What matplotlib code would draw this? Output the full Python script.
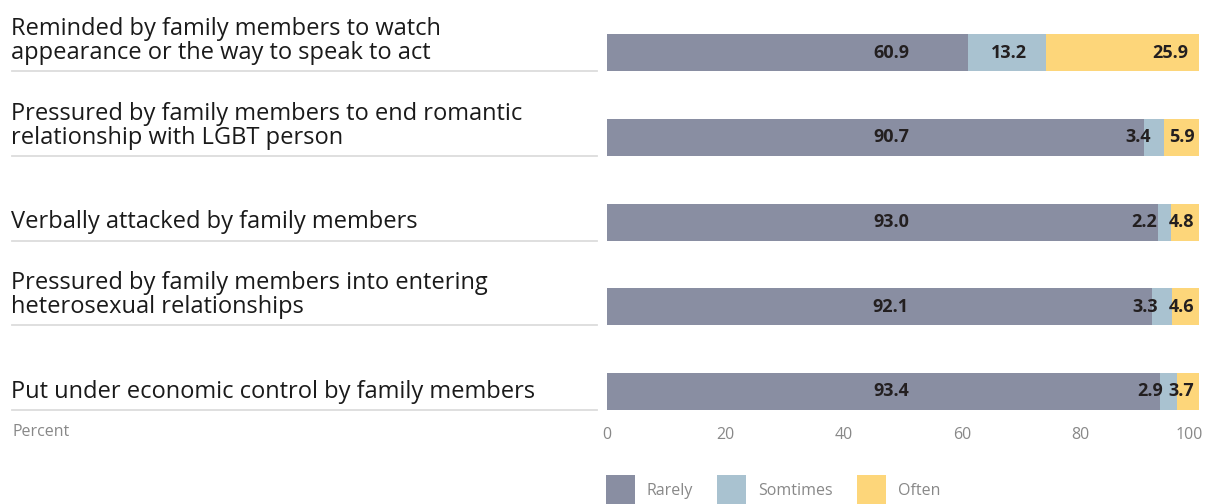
import matplotlib
matplotlib.use('Agg')
import matplotlib.pyplot as plt
import matplotlib.transforms as mtrans
from matplotlib.patches import Rectangle
import numpy as np

plt.rcParams['font.family'] = ['Open Sans', 'DejaVu Sans']

categories = [
    'Reminded by family members to watch\nappearance or the way to speak to act',
    'Pressured by family members to end romantic\nrelationship with LGBT person',
    'Verbally attacked by family members',
    'Pressured by family members into entering\nheterosexual relationships',
    'Put under economic control by family members',
]
rarely = [60.9, 90.7, 93.0, 92.1, 93.4]
sometimes = [13.2, 3.4, 2.2, 3.3, 2.9]
often = [25.9, 5.9, 4.8, 4.6, 3.7]
series_names = ['Rarely', 'Somtimes', 'Often']
ticks = [0, 20, 40, 60, 80, 100]

colors = ['#898ea2', '#a9c2d0', '#fdd67a']
W, H = 1207, 504

fig = plt.figure(figsize=(W / 100, H / 100), dpi=100)
ax = fig.add_axes([607 / W, 1 - 420 / H, 592 / W, 420 / H])

row_gap = 84.75
bar_h = 37 / row_gap
top_row = 52.5 / row_gap
ax.set_ylim((420 - 52.5) / row_gap, -top_row)
ax.set_xlim(0, 100)

y = np.arange(len(categories))
r = np.array(rarely)
s = np.array(sometimes)
o = np.array(often)
ax.barh(y, r, height=bar_h, color=colors[0], linewidth=0)
ax.barh(y, s, left=r, height=bar_h, color=colors[1], linewidth=0)
ax.barh(y, o, left=r + s, height=bar_h, color=colors[2], linewidth=0)

fig_data = mtrans.blended_transform_factory(fig.transFigure, ax.transData)
val_kw = dict(fontsize=13, fontweight='bold', color='#231f20', va='center')
for i in range(len(categories)):
    ax.text(51.0, y[i], f'{r[i]:.1f}', ha='right', **val_kw)
    xs = min(r[i] + s[i] / 2 + 3.4, r[i] + s[i] - 2.3)
    ax.text(xs, y[i], f'{s[i]:.1f}', ha='right', **val_kw)
    xo = 100 - 0.8 if o[i] < 10 else 100 - 1.8
    ax.text(xo, y[i], f'{o[i]:.1f}', ha='right', **val_kw)

    # label + underline
    yb = y[i] + bar_h / 2
    ax.plot([12 / W, 597 / W], [yb, yb], color='#dcdcdc', lw=1.3,
            transform=fig_data, clip_on=False)
    ax.annotate(categories[i], xy=(11 / W, yb), xycoords=('figure fraction', 'data'),
                xytext=(0, 6), textcoords='offset pixels', ha='left', va='bottom',
                fontsize=17, color='#1a1a1a', linespacing=1.0,
                annotation_clip=False)

for sp in ax.spines.values():
    sp.set_visible(False)
ax.set_yticks([])
ax.set_xticks(ticks)
ax.set_xticklabels([str(t) for t in ticks])
ax.tick_params(axis='x', length=0, pad=5, labelsize=11.5, labelcolor='#888888')
lbls = ax.get_xticklabels()
lbls[-1].set_ha('right')
lbls[-1].set_transform(lbls[-1].get_transform() + mtrans.Affine2D().translate(4, 0))

fig.text(12 / W, 1 - 432 / H, 'Percent', ha='left', va='center', fontsize=11.5,
         color='#888888')

# legend
leg_x = [606, 717, 857]
for k, name in enumerate(series_names):
    fig.patches.append(Rectangle((leg_x[k] / W, 1 - 504 / H), 29 / W, 29 / H,
                                 transform=fig.transFigure, color=colors[k], lw=0))
    fig.text((leg_x[k] + 41) / W, 1 - 491 / H, name, ha='left', va='center',
             fontsize=11.5, color='#888888')

fig.savefig('out.png', dpi=100)
